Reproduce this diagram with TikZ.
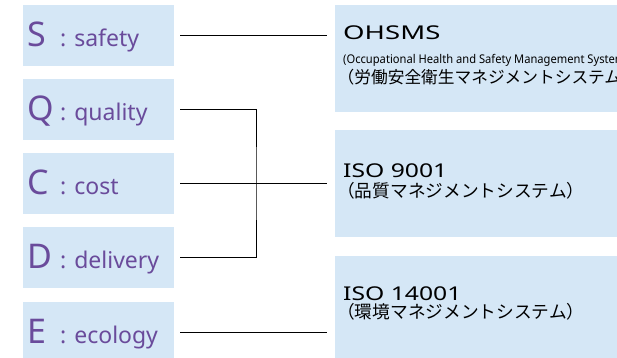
\documentclass[tikz,border=0pt]{standalone}
\usepackage{fontspec}
\setmainfont{Noto Sans}
\newfontfamily\jpfont{Noto Sans CJK JP}
\newfontfamily\widefont[FakeStretch=1.3]{Noto Sans}
\newfontfamily\extrawidefont[FakeStretch=1.45]{Noto Sans}
\newfontfamily\narrowfont[FakeStretch=0.93]{Noto Sans}
\definecolor{boxblue}{HTML}{D5E7F6}
\definecolor{purp}{HTML}{6A4B9B}
\begin{document}
\begin{tikzpicture}[x=1pt,y=-1pt,
  lbox/.style={rectangle,fill=boxblue,draw=none,minimum width=151pt,minimum height=61pt,inner sep=0pt},
  rbox/.style={rectangle,fill=boxblue,draw=none,minimum width=300pt,minimum height=107pt,inner sep=0pt},
  lettertext/.style={anchor=base west,inner sep=0pt,text=purp,font=\fontsize{34}{34}\selectfont},
  wordtext/.style={anchor=base west,inner sep=0pt,text=purp,font=\fontsize{23}{23}\selectfont},
  headtext/.style={anchor=base west,inner sep=0pt,text=black,font=\widefont\fontsize{19}{19}\selectfont},
  jtext/.style={anchor=base west,inner sep=0pt,text=black,font=\jpfont\fontsize{17.7}{17.7}\selectfont},
  smalltext/.style={anchor=base west,inner sep=0pt,text=black,font=\narrowfont\fontsize{12}{12}\selectfont},
  conn/.style={draw=black,line width=0.9pt}]
\useasboundingbox (0,0) rectangle (617,357);
\clip (0,0) rectangle (617,357);
% left boxes
\node[lbox] (S) at (98.5,35.5) {};
\node[lbox] (Q) at (98.5,109.5) {};
\node[lbox] (C) at (98.5,183.5) {};
\node[lbox] (D) at (98.5,257.5) {};
\node[lbox] (E) at (98.5,332.5) {};
% right boxes
\node[rbox] (OH) at (485,58) {};
\node[rbox] (I9) at (485,183.5) {};
\node[rbox] (I14) at (485,309.5) {};
% left labels
\node[lettertext] (sl) at (27,46.5) {S};
\node[wordtext] (sw) at (60,46.5) {: safety};
\node[lettertext] (ql) at (27,120.5) {Q};
\node[wordtext] (qw) at (60,120.5) {: quality};
\node[lettertext] (cl) at (27,194.5) {C};
\node[wordtext] (cw) at (60,194.5) {: cost};
\node[lettertext] (dl) at (27,268.5) {D};
\node[wordtext] (dw) at (60,268.5) {: delivery};
\node[lettertext] (el) at (27,343.5) {E};
\node[wordtext] (ew) at (60,343.5) {: ecology};
% right labels
\node[headtext,font=\extrawidefont\fontsize{19}{19}\selectfont] (oht) at (343,39.5) {OHSMS};
\node[smalltext] (ohs) at (343,63) {(Occupational Health and Safety Management System)};
\node[jtext,font=\jpfont\fontsize{16.7}{16.7}\selectfont] (ohj) at (337.5,83) {（労働安全衛生マネジメントシステム）};
\node[headtext] (i9t) at (343,177) {ISO 9001};
\node[jtext] (i9j) at (337,197.5) {（品質マネジメントシステム）};
\node[headtext] (i14t) at (343,300) {ISO 14001};
\node[jtext] (i14j) at (337,318.5) {（環境マネジメントシステム）};
% connectors
\coordinate (J) at (256,183.5);
\draw[conn] ([xshift=6pt]S.east) -- ([xshift=-8pt]S.east -| OH.west);
\draw[conn] ([xshift=6pt]C.east) -- ([xshift=-8pt]C.east -| I9.west);
\draw[conn] ([xshift=6pt]E.east) -- ([xshift=-8pt]E.east -| I14.west);
\draw[conn] ([xshift=6pt]Q.east) -| (J) |- ([xshift=6pt]D.east);
\end{tikzpicture}
\end{document}
